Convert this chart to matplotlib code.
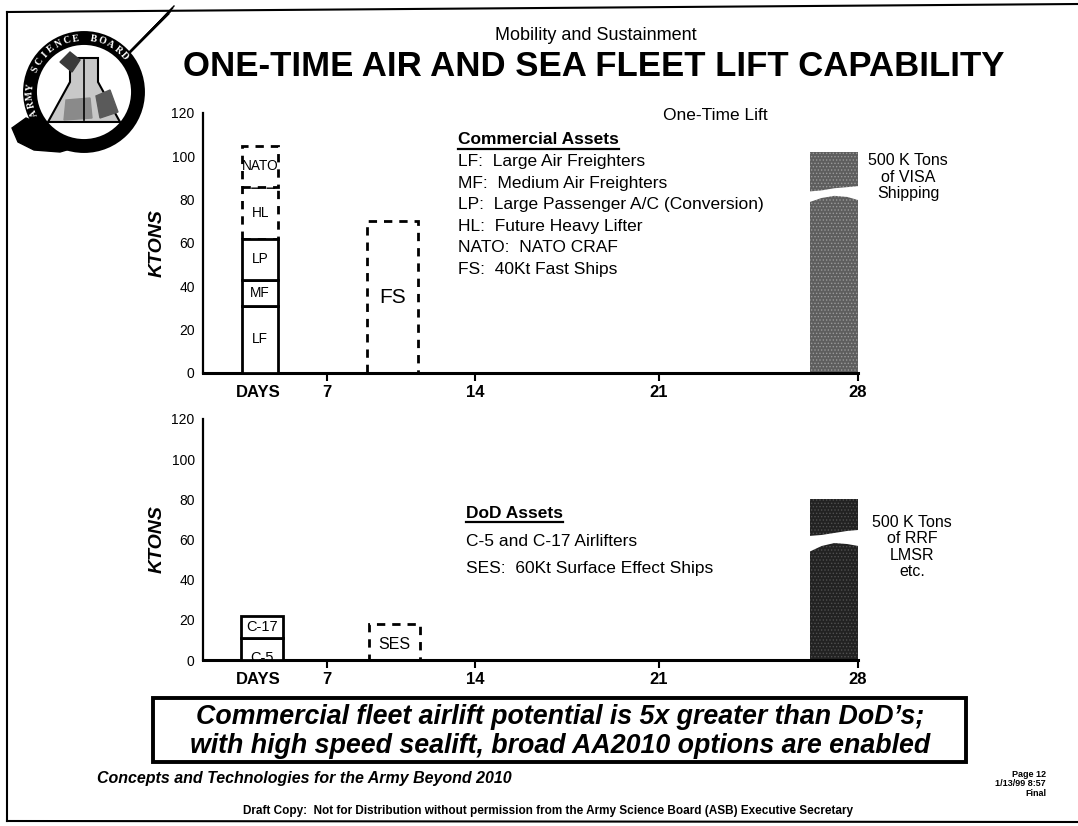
import numpy as np
import matplotlib
matplotlib.use('Agg')
import matplotlib.pyplot as plt
from matplotlib.patches import Circle, Rectangle, Polygon
from matplotlib.lines import Line2D

plt.rcParams['font.family'] = ['Liberation Sans', 'DejaVu Sans']
plt.rcParams['hatch.linewidth'] = 0.6
NARROW = ['Liberation Sans Narrow', 'Liberation Sans', 'DejaVu Sans']

W, H = 1078, 826

# day axis of the slide is not evenly spaced: day -> relative position
day_knots = [0, 7, 14, 21, 28]
day_pos = [0, 124, 272, 456, 655]
day_ticks = [7, 14, 21, 28]
days_label_at = 3.1

# commercial airlift (stacked, ktons), HL and NATO are future/planned
air_names = ['LF', 'MF', 'LP', 'HL', 'NATO']
air_kt = [31, 12, 19, 24, 19]
air_planned = [False, False, False, True, True]
air_days = (2.2, 4.25)

fs_kt = 70
fs_days = (8.9, 11.3)

# 500 K tons of VISA shipping, drawn broken
visa_shown = 102
visa_gap_lo = [79, 81, 82, 81.5, 80]
visa_gap_hi = [84, 84.5, 85.5, 86, 86.5]
sea_days = (26.3, 28)

# DoD assets
dod_names = ['C-5', 'C-17']
dod_kt = [11, 11]
dod_days = (2.15, 4.5)
ses_kt = 18
ses_days = (9.0, 11.4)

rrf_shown = 80
rrf_gap_lo = [54, 57, 58.5, 58, 57]
rrf_gap_hi = [62, 62.5, 63.5, 64.5, 65]


def fwd(x):
    return np.interp(x, day_knots, day_pos)


def inv(p):
    return np.interp(p, day_pos, day_knots)


def px(x, y):
    return x / W, 1 - y / H


fig = plt.figure(figsize=(W / 100, H / 100), dpi=100)

# ---- page decoration (pixel coords) ----
pg = fig.add_axes([0, 0, 1, 1])
pg.set_xlim(0, W)
pg.set_ylim(H, 0)
pg.axis('off')
pg.plot([7, 7], [12, 821], color='black', lw=1.5)
pg.plot([7, W], [12, 4], color='black', lw=1.5)
pg.plot([7, W], [821, 822], color='black', lw=1.5)

# logo: Army Science Board seal
cx, cy, r = 84, 92, 54
pg.add_patch(Polygon([[12, 128], [26, 118], [40, 124], [52, 118], [66, 138], [80, 146],
                      [60, 152], [34, 150], [18, 142]], closed=True, color='black'))
for k in range(5):
    pg.plot([126 + k * 2.5, 168 + k * 1.5], [56 - k * 2.5, 14 - k * 2], color='black',
            lw=1.8 - k * 0.2)
pg.add_patch(Circle((cx, cy), r, facecolor='white', edgecolor='black', lw=10))
pg.add_patch(Polygon([[70, 58], [98, 58], [98, 82], [120, 122], [48, 122], [70, 82]],
                     closed=True, facecolor='#c8c8c8', edgecolor='black', lw=1.5))
pg.add_patch(Polygon([[60, 62], [70, 52], [80, 60], [72, 72]], closed=True, color='#3a3a3a'))
pg.add_patch(Polygon([[96, 96], [110, 90], [118, 112], [100, 118]], closed=True, color='#5a5a5a'))
pg.add_patch(Polygon([[66, 100], [90, 98], [92, 118], [64, 120]], closed=True, color='#8a8a8a'))
pg.plot([84, 84], [60, 120], color='black', lw=1.2)
label = 'ARMY SCIENCE BOARD'
angs = np.linspace(203, 42, len(label))
for ch, a in zip(label, angs):
    t = np.radians(a)
    pg.text(cx + r * np.cos(t), cy - r * np.sin(t), ch, rotation=a - 90,
            ha='center', va='center', color='white', fontsize=7,
            family='Liberation Serif', weight='bold')

# titles
fig.text(*px(596, 36), 'Mobility and Sustainment', ha='center', va='center', fontsize=13)
fig.text(*px(594, 66), 'ONE-TIME AIR AND SEA FLEET LIFT CAPABILITY', ha='center',
         va='center', fontsize=25, weight='bold')


def setup(ax):
    ax.set_xscale('function', functions=(fwd, inv))
    ax.set_xlim(0, 28)
    ax.set_ylim(0, 120)
    ax.set_yticks(range(0, 121, 20))
    ax.set_xticks([days_label_at] + day_ticks, ['DAYS'] + [str(d) for d in day_ticks])
    ax.tick_params(axis='x', direction='out', length=6, width=1.5, pad=3, labelsize=12)
    for lab in ax.get_xticklabels():
        lab.set_fontweight('bold')
    ax.xaxis.get_major_ticks()[0].tick1line.set_visible(False)
    ax.tick_params(axis='y', length=0, pad=6, labelsize=10)
    ax.spines[['top', 'right']].set_visible(False)
    ax.spines['bottom'].set_linewidth(2.2)
    ax.spines['left'].set_linewidth(1.6)
    ax.set_ylabel('KTONS', fontsize=14, fontweight='bold', style='italic', labelpad=4)
    ax.patch.set_alpha(0)


def stack(ax, names, vals, planned, days, fs, first_frac=0.5):
    bottoms = np.concatenate([[0], np.cumsum(vals)[:-1]])
    w = days[1] - days[0]
    mid = (days[0] + days[1]) / 2
    order = [i for i in range(len(names)) if planned[i]] + [i for i in range(len(names)) if not planned[i]]
    for i in order:
        ax.bar(days[0], vals[i], width=w, bottom=bottoms[i], align='edge', facecolor='white',
               edgecolor='black', lw=2, linestyle=(0, (3, 2.5)) if planned[i] else '-',
               zorder=2 if planned[i] else 3)
    for i in range(len(names)):
        frac = first_frac if i == 0 else 0.5
        ax.text(mid, bottoms[i] + vals[i] * frac, names[i], ha='center', va='center',
                fontsize=fs, zorder=4, clip_on=True)


def dashed(ax, val, days, name, fs):
    ax.bar(days[0], val, width=days[1] - days[0], align='edge', facecolor='none',
           edgecolor='black', lw=2, linestyle=(0, (3, 2.5)), zorder=2)
    ax.text((days[0] + days[1]) / 2, val / 2 if val > 40 else val / 2.4, name,
            ha='center', va='center', fontsize=fs)


def broken(ax, shown, lo, hi, days, color, hatchcol):
    ax.bar(days[0], shown, width=days[1] - days[0], align='edge', facecolor=color,
           edgecolor=hatchcol, hatch='.....', lw=0, zorder=2)
    xs = np.linspace(days[0] - 0.05, days[1] + 0.05, len(lo))
    ax.fill_between(xs, lo, hi, color='white', lw=0, zorder=3)


def underline(t, lw=1.6):
    fig.canvas.draw()
    bb = t.get_window_extent()
    y = (bb.y0 - 1) / H
    fig.add_artist(Line2D([bb.x0 / W, bb.x1 / W], [y, y], transform=fig.transFigure,
                          color='black', lw=lw))


# ---- top panel ----
ax1 = fig.add_axes([203 / W, 1 - 373 / H, 655 / W, 260 / H])
setup(ax1)
stack(ax1, air_names, air_kt, air_planned, air_days, 9.8)
dashed(ax1, fs_kt, fs_days, 'FS', 15)
broken(ax1, visa_shown, visa_gap_lo, visa_gap_hi, sea_days, '#5e5e5e', '#9a9a9a')

fig.text(*px(768, 115), 'One-Time Lift', ha='right', va='center', fontsize=12.5)
t1 = fig.text(*px(458, 140), 'Commercial Assets', ha='left', va='center', fontsize=12.5, weight='bold')
legend_top = ['LF:  Large Air Freighters', 'MF:  Medium Air Freighters',
              'LP:  Large Passenger A/C (Conversion)', 'HL:  Future Heavy Lifter',
              'NATO:  NATO CRAF', 'FS:  40Kt Fast Ships']
for k, s in enumerate(legend_top):
    fig.text(*px(458, 161.5 + k * 21.6), s, ha='left', va='center', fontsize=12.5)
fig.text(*px(908, 177), '500 K Tons\nof VISA\nShipping', ha='center', va='center',
         fontsize=11.5, linespacing=1.1)

# ---- bottom panel ----
ax2 = fig.add_axes([203 / W, 1 - 660 / H, 655 / W, 241 / H])
setup(ax2)
stack(ax2, dod_names, dod_kt, [False, False], dod_days, 10.5, first_frac=0.08)
dashed(ax2, ses_kt, ses_days, 'SES', 11.5)
broken(ax2, rrf_shown, rrf_gap_lo, rrf_gap_hi, sea_days, '#222222', '#505050')

t2 = fig.text(*px(466, 513), 'DoD Assets', ha='left', va='center', fontsize=12.5, weight='bold')
fig.text(*px(466, 542), 'C-5 and C-17 Airlifters', ha='left', va='center', fontsize=12.5)
fig.text(*px(466, 569), 'SES:  60Kt Surface Effect Ships', ha='left', va='center', fontsize=12.5)
fig.text(*px(912, 547), '500 K Tons\nof RRF\nLMSR\netc.', ha='center', va='center',
         fontsize=11.5, linespacing=1.1)

# ---- conclusion box and footer ----
pg.add_patch(Rectangle((153, 698), 813, 64, fill=False, edgecolor='black', lw=2.8))
fig.text(*px(560, 717), "Commercial fleet airlift potential is 5x greater than DoD\u2019s;",
         ha='center', va='center', fontsize=19.3, weight='bold', style='italic', family=NARROW)
fig.text(*px(560, 746), 'with high speed sealift, broad AA2010 options are enabled',
         ha='center', va='center', fontsize=19.3, weight='bold', style='italic', family=NARROW)
fig.text(*px(97, 778), 'Concepts and Technologies for the Army Beyond 2010', ha='left',
         va='center', fontsize=11.5, weight='bold', style='italic', family=NARROW)
fig.text(*px(548, 811), 'Draft Copy:  Not for Distribution without permission from the Army '
         'Science Board (ASB) Executive Secretary', ha='center', va='center', fontsize=8.5,
         weight='bold', family=NARROW)
fig.text(*px(1046, 784), 'Page 12\n1/13/99 8:57\nFinal', ha='right', va='center',
         multialignment='right', fontsize=6.5, weight='bold', family=NARROW, linespacing=1.1)

underline(t1)
underline(t2)

fig.savefig('out.png', dpi=100)
